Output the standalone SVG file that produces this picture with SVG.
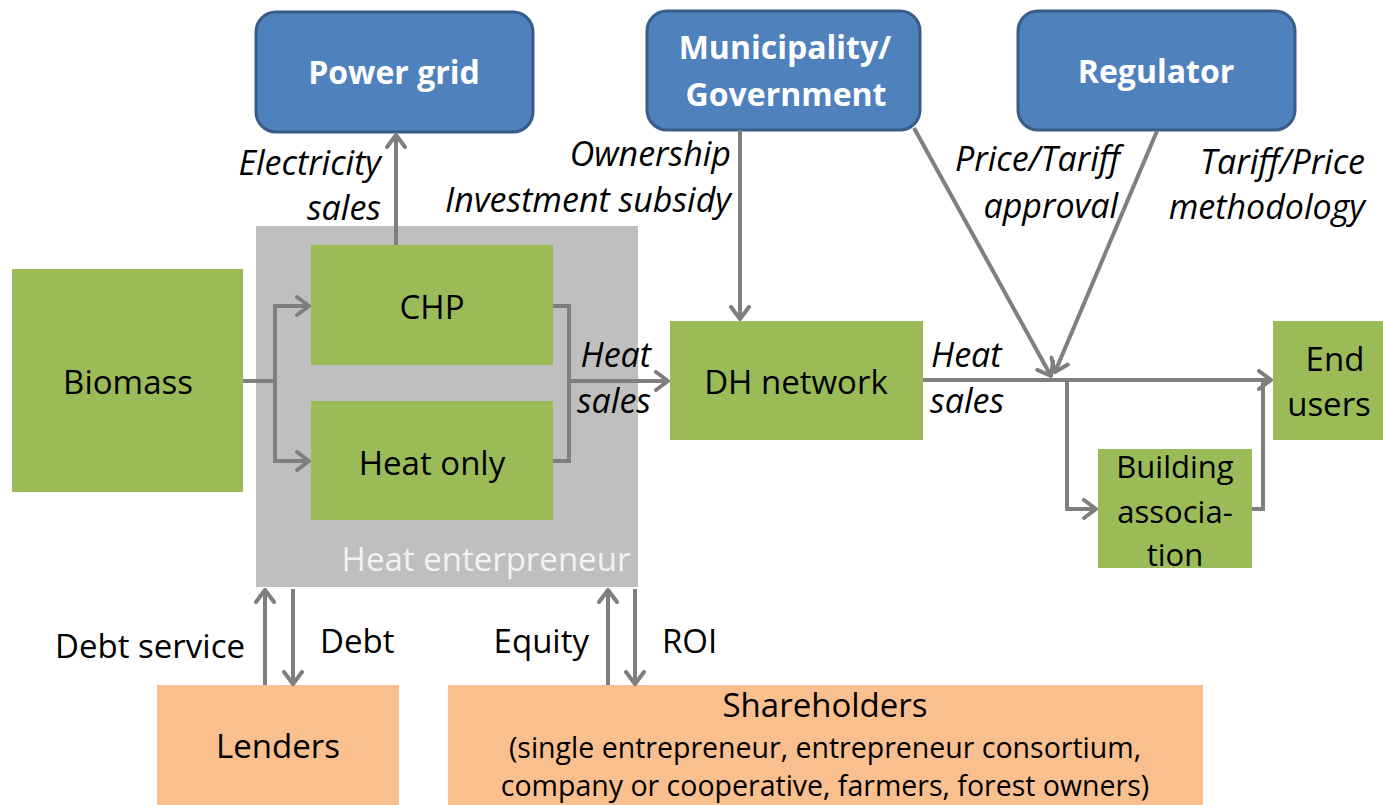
<svg xmlns="http://www.w3.org/2000/svg" width="1383" height="805" viewBox="0 0 1383 805">
<style>
.g{fill:#9bbb59}
.o{fill:#f9bf8f}
.b{fill:#4f81bd;stroke:#385d8a;stroke-width:3}
.t{font-family:"Open Sans","Liberation Sans",sans-serif;font-size:33px;fill:#000;text-anchor:middle}
.w{font-family:"Open Sans","Liberation Sans",sans-serif;font-size:32px;font-weight:bold;fill:#fff;text-anchor:middle}
.i{font-family:"Open Sans","Liberation Sans",sans-serif;font-size:34px;font-style:italic;fill:#000}
.l{font-family:"Open Sans","Liberation Sans",sans-serif;font-size:33px;fill:#000}
.c{fill:none;stroke:#7f7f7f;stroke-width:4}
</style>
<defs>
<marker id="a" viewBox="0 0 16 22" refX="14" refY="11" markerWidth="16" markerHeight="22" markerUnits="userSpaceOnUse" orient="auto">
<path d="M2,2 L14,11 L2,20" fill="none" stroke="#7f7f7f" stroke-width="4" stroke-linecap="round" stroke-linejoin="round"/>
</marker>
</defs>
<g id="heat-enterpreneur">
<rect x="256" y="226" width="382" height="361" fill="#bfbfbf"/>
<text x="486" y="571" style="font-family:'Open Sans','Liberation Sans',sans-serif;font-size:33px;fill:#f2f2f2;text-anchor:middle">Heat enterpreneur</text>
</g>
<g id="chp"><rect class="g" x="311" y="245" width="242" height="120"/><text class="t" x="432" y="319">CHP</text></g>
<g id="heat-only"><rect class="g" x="311" y="401" width="242" height="119"/><text class="t" x="432" y="475">Heat only</text></g>
<g id="biomass"><rect class="g" x="12" y="269" width="231" height="223"/><text class="t" x="128" y="394">Biomass</text></g>
<g id="dh-network"><rect class="g" x="670" y="321" width="253" height="119"/><text class="t" x="796" y="394">DH network</text></g>
<g id="end-users"><rect class="g" x="1273" y="321" width="110" height="119"/><text class="t" x="1335" y="371">End</text><text class="t" x="1329" y="416">users</text></g>
<g id="building-association"><rect class="g" x="1098" y="449" width="154" height="119"/><text class="t" x="1175" y="478" style="font-size:31px">Building</text><text class="t" x="1175" y="523" style="font-size:31px">associa-</text><text class="t" x="1175" y="566" style="font-size:31px">tion</text></g>
<g id="power-grid"><rect class="b" x="256" y="12" width="277" height="120" rx="20"/><text class="w" x="394" y="84">Power grid</text></g>
<g id="municipality"><rect class="b" x="647" y="11" width="273" height="119" rx="20"/><text class="w" x="785" y="59">Municipality/</text><text class="w" x="786" y="106">Government</text></g>
<g id="regulator"><rect class="b" x="1018" y="11" width="277" height="119" rx="20"/><text class="w" x="1156" y="83">Regulator</text></g>
<g id="lenders"><rect class="o" x="157" y="685" width="242" height="120"/><text class="t" x="278" y="758">Lenders</text></g>
<g id="shareholders"><rect class="o" x="448" y="685" width="755" height="120"/><text class="t" x="825" y="717">Shareholders</text><text class="t" x="825" y="758" style="font-size:28.5px">(single entrepreneur, entrepreneur consortium,</text><text class="t" x="825" y="796" style="font-size:28.5px">company or cooperative, farmers, forest owners)</text></g>
<g id="connectors">
<path class="c" d="M243,381 H275"/>
<path class="c" d="M275,461 V306 H309" marker-end="url(#a)"/>
<path class="c" d="M275,381 V461 H309" marker-end="url(#a)"/>
<path class="c" d="M553,306 H569 V461 H553"/>
<path class="c" d="M569,381 H668" marker-end="url(#a)"/>
<path class="c" d="M396,245 V135" marker-end="url(#a)"/>
<path class="c" d="M740,130 V319" marker-end="url(#a)"/>
<path class="c" d="M923,380 H1271" marker-end="url(#a)"/>
<path class="c" d="M914,128 L1051,376" marker-end="url(#a)"/>
<path class="c" d="M1157,131 L1055,372" marker-end="url(#a)"/>
<path class="c" d="M1067,380 V509 H1096" marker-end="url(#a)"/>
<path class="c" d="M1252,509 H1263 V382"/>
<path class="c" d="M265,685 V590" marker-end="url(#a)"/>
<path class="c" d="M293,589 V684" marker-end="url(#a)"/>
<path class="c" d="M608,685 V590" marker-end="url(#a)"/>
<path class="c" d="M635,589 V684" marker-end="url(#a)"/>
</g>
<g id="labels">
<text class="i" x="381" y="175" text-anchor="end">Electricity</text>
<text class="i" x="381" y="220" text-anchor="end">sales</text>
<text class="i" x="731" y="166" text-anchor="end">Ownership</text>
<text class="i" x="731" y="212" text-anchor="end">Investment subsidy</text>
<text class="i" x="1120" y="171" text-anchor="end">Price/Tariff</text>
<text class="i" x="1118" y="218" text-anchor="end">approval</text>
<text class="i" x="1365" y="174" text-anchor="end">Tariff/Price</text>
<text class="i" x="1365" y="219" text-anchor="end">methodology</text>
<text class="i" x="651" y="367" text-anchor="end">Heat</text>
<text class="i" x="651" y="413" text-anchor="end">sales</text>
<text class="i" x="931" y="367">Heat</text>
<text class="i" x="930" y="413">sales</text>
<text class="l" x="245" y="658" text-anchor="end">Debt service</text>
<text class="l" x="320" y="653">Debt</text>
<text class="l" x="589" y="653" text-anchor="end">Equity</text>
<text class="l" x="662" y="653">ROI</text>
</g>
</svg>
